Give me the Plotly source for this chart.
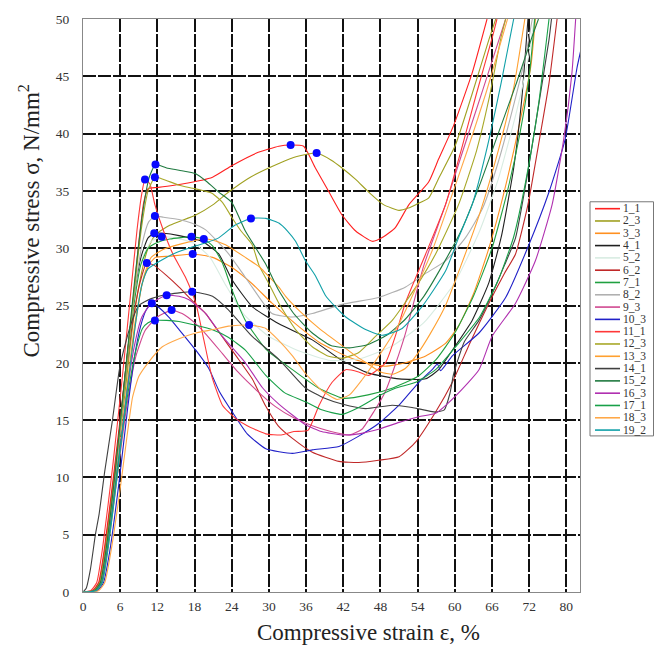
import plotly.graph_objects as go

# ---------------- data ----------------
names = ["1_1", "2_3", "3_3", "4_1", "5_2", "6_2", "7_1", "8_2", "9_3", "10_3",
         "11_1", "12_3", "13_3", "14_1", "15_2", "16_3", "17_1", "18_3", "19_2"]
colors = ["#ff2020", "#a0a020", "#ff9020", "#202020", "#d8ece2", "#c02828", "#20a040",
          "#b0b0b0", "#d04890", "#2020c8", "#ff3838", "#a8a828", "#ffa030", "#404040",
          "#207a40", "#b030b0", "#18a048", "#ffa848", "#10a0a8"]

strain_1_1 = [0, 1.5, 2.5, 3.5, 5, 6.5, 8, 9, 9.8, 10.5, 12, 16, 20.9, 24, 28, 31.6, 33.5, 35.6, 37.5, 39.7, 41.8, 44, 46.7, 48.5, 50.4, 52.6, 55.8, 57.4, 59.8, 62.8, 65.2]
stress_1_1 = [0, 0.1, 0.8, 4, 10.5, 17.5, 25, 30.5, 34, 35.2, 35.3, 35.6, 36.2, 37.2, 38.3, 38.9, 39.0, 38.9, 37.0, 34.9, 32.9, 31.5, 30.6, 31.0, 31.8, 33.8, 35.8, 37.8, 40.7, 45.3, 50]

strain_2_3 = [0, 1.8, 2.8, 3.8, 5.3, 6.8, 8.2, 9.5, 10.5, 11.7, 14, 18.2, 21, 23.5, 27, 31.6, 34.5, 37.7, 40, 41.8, 44, 46.1, 48.5, 51, 52.5, 53.7, 55.8, 57.4, 60.1, 62.7, 65.5, 66.6]
stress_2_3 = [0, 0.1, 0.8, 4, 10.5, 17.5, 24, 28, 30, 31.2, 32, 32.9, 33.8, 34.9, 36.2, 37.4, 38.0, 38.3, 37.7, 37.0, 36.0, 34.9, 33.8, 33.3, 33.5, 33.8, 34.4, 36.1, 39.0, 43.3, 48.2, 50]

strain_3_3 = [0, 2.0, 3.0, 4.0, 5.5, 7, 8.4, 9.6, 10.7, 11.7, 14, 17.7, 20.9, 24.1, 27.3, 30.5, 34.3, 38.1, 42.4, 45.6, 48.8, 52, 55.3, 58.5, 60.6, 63, 65.5, 68, 70.5, 72.3, 73]
stress_3_3 = [0, 0.1, 0.8, 4, 10.5, 17.5, 23.5, 27, 28.6, 29.2, 29.3, 29.5, 29.2, 28.3, 26.9, 25.2, 23.4, 21.8, 20.6, 20.0, 19.7, 20.0, 20.6, 21.7, 23.2, 26, 30, 35, 41, 46, 50]

strain_4_1 = [0, 1.8, 2.8, 3.8, 5.3, 6.8, 8.2, 9.4, 10.5, 11.5, 13, 15.5, 19.2, 21.9, 24.1, 27.3, 31.6, 37, 41.8, 46.1, 51, 55.3, 57.4, 59.6, 62.8, 65.5, 67.5, 69.5, 70.8, 71.8]
stress_4_1 = [0, 0.1, 0.8, 4, 11, 19, 25.5, 29.3, 30.9, 31.3, 31.3, 31.1, 30.6, 29.5, 27.2, 24.9, 23.4, 22.0, 20.2, 19.1, 18.6, 18.6, 19.4, 21.1, 23.7, 27, 31, 37, 43, 50]

strain_5_2 = [0, 1.9, 2.9, 3.9, 5.4, 6.9, 8.3, 9.5, 11, 12.7, 15, 18, 20.5, 23, 26, 30, 35, 40, 45, 50, 55, 60, 64, 67, 70, 72, 72.8]
stress_5_2 = [0, 0.1, 0.8, 4, 11, 19, 25.5, 29, 30.6, 31.0, 30.9, 30.4, 29.2, 26.8, 24.2, 22.3, 21, 20.2, 20.4, 21.5, 23.5, 27, 31.5, 36, 42, 47, 50]

strain_6_2 = [0, 1.6, 2.6, 3.6, 5.1, 6.6, 8, 9.2, 10.3, 11.5, 13.5, 15.5, 17.5, 19.8, 21.5, 23.5, 25.5, 27.3, 29.5, 31.5, 33.8, 37, 41.3, 44.5, 47.7, 51, 53.7, 56.9, 59.6, 62.5, 65.5, 68, 69.8, 71.8, 73.5, 75.2, 76.5]
stress_6_2 = [0, 0.1, 0.8, 4, 10.5, 17.5, 23.5, 27, 28.7, 28.5, 27.6, 26.6, 25.5, 24.3, 23, 21.5, 20, 18.6, 16.2, 14.5, 13.4, 12.2, 11.4, 11.3, 11.5, 11.8, 13.1, 15.7, 18.3, 21.8, 25.2, 27.8, 29.5, 33.8, 39, 44.4, 50]

strain_7_1 = [0, 1.9, 2.9, 3.9, 5.4, 6.9, 8.2, 9.3, 10.5, 12, 14, 17.5, 19.5, 20.9, 22.5, 24.1, 26.2, 29.5, 33.8, 38, 42, 46, 50, 54, 57, 60, 63, 66, 68.5, 70.5, 72, 72.9]
stress_7_1 = [0, 0.1, 0.8, 4, 11, 19, 25, 28.5, 30, 30.5, 30.8, 31.0, 30.8, 30.2, 28.7, 26.3, 23.7, 21.2, 19.4, 17.8, 16.9, 17.2, 17.8, 18.8, 20.3, 22.6, 25.8, 30, 35, 40, 45, 50]

strain_8_2 = [0, 1.9, 2.9, 3.9, 5.4, 6.9, 8.3, 9.6, 10.6, 11.6, 13, 15.5, 17.5, 19.8, 21.5, 23.5, 25.5, 27.3, 30.5, 33.8, 37, 41.8, 47.7, 52, 55.3, 58.5, 61.7, 64.5, 67, 69.5, 71.5, 72.5]
stress_8_2 = [0, 0.1, 0.8, 4, 11, 19, 26, 30.5, 32.3, 32.8, 32.7, 32.5, 32.2, 31.6, 30.7, 29.5, 28, 26.6, 24.3, 24.0, 24.3, 25.1, 25.7, 26.6, 27.8, 28.9, 30.9, 33.5, 37.5, 42.5, 47, 50]

strain_9_3 = [0, 2.0, 3.0, 4.0, 5.5, 7, 8.5, 10, 12, 14.3, 16, 18, 20, 22.5, 25, 28, 31, 34, 37, 40, 43, 45, 47, 48.8, 50.5, 52, 55, 58.5, 61, 64.5, 68.2]
stress_9_3 = [0, 0.1, 0.8, 4, 10, 16, 20.5, 22.8, 24, 24.6, 24.3, 23.5, 22.4, 20.8, 19.2, 17.6, 16.2, 15.2, 14.5, 14.0, 13.7, 14.2, 15.8, 17.5, 20, 22.5, 28.5, 33.8, 38, 43.8, 50]

strain_10_3 = [0, 2.3, 3.3, 4.3, 5.8, 7.2, 8.3, 9.3, 10.2, 11.1, 12.3, 13.8, 15.5, 18.2, 20.3, 22, 24.1, 26.5, 29.5, 33.8, 37, 41.3, 44.5, 47.7, 51, 54.2, 56.5, 57.2, 57.7, 59.6, 63.9, 68.2, 71.8, 75.2, 77.8, 79.7, 80.3]
stress_10_3 = [0, 0.1, 0.8, 3.5, 9.5, 16, 20.5, 23.2, 24.6, 25.2, 24.8, 24.0, 22.9, 21.1, 19.5, 17.5, 15.7, 13.8, 12.5, 12.1, 12.4, 12.7, 13.6, 14.7, 16.3, 18.3, 19.5, 19.9, 19.3, 20.6, 22.6, 25.7, 30.1, 34.9, 39.5, 45.7, 47.2]

strain_11_1 = [0, 1.2, 2.2, 3.2, 4.8, 6.3, 7.5, 8.7, 9.5, 10, 10.8, 11.6, 13, 14.5, 16.5, 18.2, 19.5, 20.8, 22.5, 24.5, 26.5, 29.5, 32, 34, 36.3, 38.1, 40.2, 42.4, 44.5, 46.1, 48.8, 50.5, 52, 55.3, 58.5, 61, 63.5, 66, 66.8]
stress_11_1 = [0, 0.1, 0.8, 4, 11, 18.5, 25, 31.5, 34.8, 36.0, 35.6, 33.8, 31.5, 29.5, 27.5, 25.2, 22, 18.8, 16.3, 15.2, 14.5, 13.8, 13.7, 14.0, 14.1, 16.3, 18.3, 19.4, 19.2, 18.9, 20.0, 22.5, 25.2, 29.5, 33.8, 38.5, 43.5, 48.3, 50]

strain_12_3 = [0, 1.7, 2.7, 3.7, 5.2, 6.7, 8.2, 9.5, 10.5, 11.6, 13, 15.5, 18, 20.8, 22.5, 24, 25.5, 27.3, 28.4, 30, 31.6, 34.3, 37, 39.5, 41.8, 44.5, 47.2, 49.9, 53.7, 56.9, 60.6, 63.5, 65.5, 67.5, 68.2]
stress_12_3 = [0, 0.1, 0.8, 4, 10.5, 18, 26, 32, 35, 36.2, 36, 35.5, 35.2, 34.8, 34, 32.7, 31.5, 30.3, 28.5, 26.9, 25.2, 22.9, 21.4, 20.6, 20.4, 20.9, 22.3, 23.7, 26.6, 29.5, 33.8, 38.5, 43, 48.5, 50]

strain_13_3 = [0, 2.1, 3.1, 4.1, 5.6, 7.1, 8.5, 9.8, 11, 13, 16, 19.5, 21, 23, 26.2, 28.4, 29.5, 31.6, 32.7, 34.8, 38.1, 41.8, 44, 46, 48, 50, 52, 54, 56, 58.5, 61, 64, 67, 69.5, 71.3]
stress_13_3 = [0, 0.1, 0.8, 4, 10.5, 17.5, 23.5, 27.5, 29.2, 29.9, 30.4, 30.8, 30.7, 30.3, 29.2, 28.4, 27.8, 26.6, 25.8, 24.6, 23.0, 21.5, 20.6, 19.9, 19.2, 19.0, 19.5, 20.8, 22.5, 25, 28.5, 33, 38.5, 44, 50]

strain_14_1 = [0, 0.5, 1.2, 2, 2.6, 3.5, 4.7, 5.9, 7, 8, 9, 11, 14, 17.6, 20.9, 23.5, 27.3, 31.6, 35.9, 39, 41.8, 45.6, 49.9, 53.1, 56.9, 58.3, 59.2, 59.8, 61.5, 63.9, 66, 68, 69.8, 71.8, 73.5, 75.2, 75.6]
stress_14_1 = [0, 0.3, 2, 5, 6.8, 10.5, 14.8, 19.5, 22, 23.8, 25.0, 25.6, 26, 26.2, 25.8, 24.6, 22.3, 20.3, 17.8, 16.9, 16.4, 16.0, 16.3, 16.1, 15.7, 15.9, 17.3, 19, 21.8, 23.7, 26, 28.5, 30.9, 36.7, 42.4, 48.2, 50]

strain_15_2 = [0, 1.8, 2.8, 3.8, 5.3, 6.8, 8.3, 9.6, 10.7, 11.7, 13.5, 15.5, 18.2, 20, 21.9, 24, 26.2, 29.5, 31.6, 34, 37, 40, 43, 46, 49, 52, 55, 58, 61, 64, 67, 70, 72.5, 73.5]
stress_15_2 = [0, 0.1, 0.8, 4, 11, 19, 27, 33, 36.2, 37.3, 37.0, 36.8, 36.5, 35.8, 34.9, 34.0, 31.5, 28.6, 26.3, 24.3, 22.6, 21.5, 21.3, 21.6, 22.4, 23.8, 25.8, 28.5, 31.5, 35.5, 40, 44.5, 48.5, 50]

strain_16_3 = [0, 2.0, 3.0, 4.0, 5.5, 7, 8.3, 9.5, 11, 13.5, 15.5, 17.1, 19.8, 22.5, 26.2, 29, 31.6, 35.9, 38.5, 41.8, 44.5, 47.7, 51, 54.2, 56.9, 60.1, 63.9, 66, 69.8, 73, 75.7, 77.6, 78.9, 79.5]
stress_16_3 = [0, 0.1, 0.8, 4, 10.5, 17, 21.5, 24, 25.2, 25.9, 25.8, 25.5, 24.3, 22.3, 20.0, 17.8, 16.4, 14.6, 14.0, 13.7, 13.8, 14.2, 14.8, 15.3, 15.6, 17.1, 19.4, 22.3, 25.2, 28.9, 33.8, 39.6, 45.3, 50]

strain_17_1 = [0, 2.0, 3.0, 4.0, 5.5, 7, 8.5, 9.6, 10.5, 11.6, 13.5, 15.5, 18, 20.8, 23.5, 26.2, 29.5, 32.5, 35.9, 38.5, 41.8, 44.5, 47.7, 50.5, 53.7, 56.9, 60.6, 64, 67, 69.5, 71.5, 73.5, 75.2]
stress_17_1 = [0, 0.1, 0.8, 4, 10.5, 16.5, 21, 23, 23.5, 23.7, 23.7, 23.6, 23.3, 22.9, 22.2, 21.1, 18.9, 17.4, 16.6, 15.9, 15.5, 16.1, 17.1, 17.8, 18.3, 19.4, 21.7, 24, 27.2, 31, 36, 42.5, 50]

strain_18_3 = [0, 2.5, 3.5, 4.5, 6, 7.2, 8, 9, 10.5, 12.8, 15.5, 18.2, 21, 23.5, 26.8, 29.5, 31.5, 33.8, 36, 38.5, 41, 43, 45, 48, 51, 53.7, 56.5, 59, 62, 65, 68.5]
stress_18_3 = [0, 0.1, 0.8, 3.5, 9, 14, 17, 18.8, 20, 21.4, 22.1, 22.6, 22.9, 23.2, 23.3, 23.0, 22.0, 20.6, 19.0, 17.6, 16.8, 17.2, 18.5, 20.8, 23.4, 26.5, 30, 33.8, 38.5, 43.5, 50]

strain_19_2 = [0, 2.1, 3.1, 4.1, 5.6, 7.1, 8.5, 9.5, 10.5, 12.8, 15, 17.6, 20, 21.9, 24.5, 27.1, 29.5, 31.6, 33, 34.3, 35.9, 37.5, 39.1, 40.7, 42.4, 45.6, 48.3, 51.5, 54.7, 58.5, 60.6, 62.8, 65, 67.5, 69.5]
stress_19_2 = [0, 0.1, 0.8, 4, 10.5, 17.5, 23.5, 26.8, 28.2, 29.0, 29.6, 30.1, 30.5, 30.9, 32.0, 32.6, 32.6, 32.2, 31.5, 30.6, 28.9, 27.6, 25.9, 24.9, 24.0, 22.9, 22.4, 23.0, 24.9, 28.0, 30.9, 33.8, 38.3, 44.5, 50]

# strength points (blue dots)
peak_strain = [33.5, 37.7, 17.7, 11.5, 12.7, 10.3, 17.5, 11.6, 14.3, 11.1,
               10.0, 11.6, 19.5, 17.6, 11.7, 13.5, 11.6, 26.8, 27.1]
peak_stress = [39.0, 38.3, 29.5, 31.3, 31.0, 28.7, 31.0, 32.8, 24.6, 25.2,
               36.0, 36.2, 30.8, 26.2, 37.3, 25.9, 23.7, 23.3, 32.6]

x_tickvals = [0, 6, 12, 18, 24, 30, 36, 42, 48, 54, 60, 66, 72, 78]
x_ticktext = ["0", "6", "12", "18", "24", "30", "36", "42", "48", "54", "60", "66", "72", "80"]
y_tickvals = [0, 5, 10, 15, 20, 25, 30, 35, 40, 45, 50]

strains = [strain_1_1, strain_2_3, strain_3_3, strain_4_1, strain_5_2, strain_6_2, strain_7_1,
           strain_8_2, strain_9_3, strain_10_3, strain_11_1, strain_12_3, strain_13_3,
           strain_14_1, strain_15_2, strain_16_3, strain_17_1, strain_18_3, strain_19_2]
stresses = [stress_1_1, stress_2_3, stress_3_3, stress_4_1, stress_5_2, stress_6_2, stress_7_1,
            stress_8_2, stress_9_3, stress_10_3, stress_11_1, stress_12_3, stress_13_3,
            stress_14_1, stress_15_2, stress_16_3, stress_17_1, stress_18_3, stress_19_2]

# ---------------- figure ----------------
W, H = 654, 650
L, R, T, B = 83, 580, 12, 592
SERIF = "Liberation Serif, Times New Roman, serif"

fig = go.Figure()
for nm, col, xs, ys in zip(names, colors, strains, stresses):
    fig.add_trace(go.Scatter(x=xs, y=ys, mode="lines", name=nm, showlegend=False,
                             line=dict(color=col, width=1.1, shape="spline", smoothing=0.5)))

fig.add_trace(go.Scatter(x=peak_strain, y=peak_stress, mode="markers", showlegend=False,
                         marker=dict(color="#0808ff", size=8)))

def px2paper_x(px):
    return (px - L) / (R - L)

def px2paper_y(py):
    return (B - py) / (B - T)

shapes = []
annotations = []
# manual legend (compact like the reference)
shapes.append(dict(type="rect", xref="paper", yref="paper",
                   x0=px2paper_x(590), x1=px2paper_x(653.5),
                   y0=px2paper_y(434), y1=px2paper_y(197),
                   line=dict(color="#777777", width=1), fillcolor="white", layer="above"))
for i, (nm, col) in enumerate(zip(names, colors)):
    yy = px2paper_y(204 + 12.45 * i)
    shapes.append(dict(type="line", xref="paper", yref="paper",
                       x0=px2paper_x(595), x1=px2paper_x(620), y0=yy, y1=yy,
                       line=dict(color=col, width=1.6), layer="above"))
    annotations.append(dict(xref="paper", yref="paper", x=px2paper_x(622), y=yy,
                            text=nm, showarrow=False, xanchor="left", yanchor="middle",
                            height=12.4, borderpad=0, valign="bottom", yshift=0.5,
                            font=dict(family=SERIF, size=11.5, color="#333333")))

annotations.append(dict(xref="paper", yref="paper", x=px2paper_x(30), y=px2paper_y(217),
                        text="Compressive stress σ, N/mm<sup>2</sup>", textangle=-90,
                        showarrow=False, xanchor="center", yanchor="middle",
                        font=dict(family=SERIF, size=23, color="#222222")))
annotations.append(dict(xref="paper", yref="paper", x=px2paper_x(368), y=px2paper_y(633),
                        text="Compressive strain ε, %", showarrow=False,
                        xanchor="center", yanchor="middle",
                        font=dict(family=SERIF, size=23, color="#222222")))

grid = dict(showgrid=True, gridcolor="#111111", gridwidth=2, griddash="13px,2px")

fig.update_layout(
    width=W, height=H,
    margin=dict(l=L, r=W - R, t=T, b=H - B, pad=0),
    paper_bgcolor="white", plot_bgcolor="white",
    showlegend=False,
    shapes=shapes, annotations=annotations,
    xaxis=dict(range=[0, 80.2], tickvals=x_tickvals, ticktext=x_ticktext,
               tickfont=dict(family=SERIF, size=13.5, color="#333333"),
               showline=True, linecolor="#888888", linewidth=1, mirror=True,
               zeroline=False, ticks="", ticklabelstandoff=2, **grid),
    yaxis=dict(range=[0, 50], tickvals=y_tickvals,
               tickfont=dict(family=SERIF, size=13.5, color="#333333"),
               showline=True, linecolor="#888888", linewidth=1, mirror=True,
               zeroline=False, ticks="", ticklabelstandoff=10, **grid),
)

fig.write_html("out.html")
